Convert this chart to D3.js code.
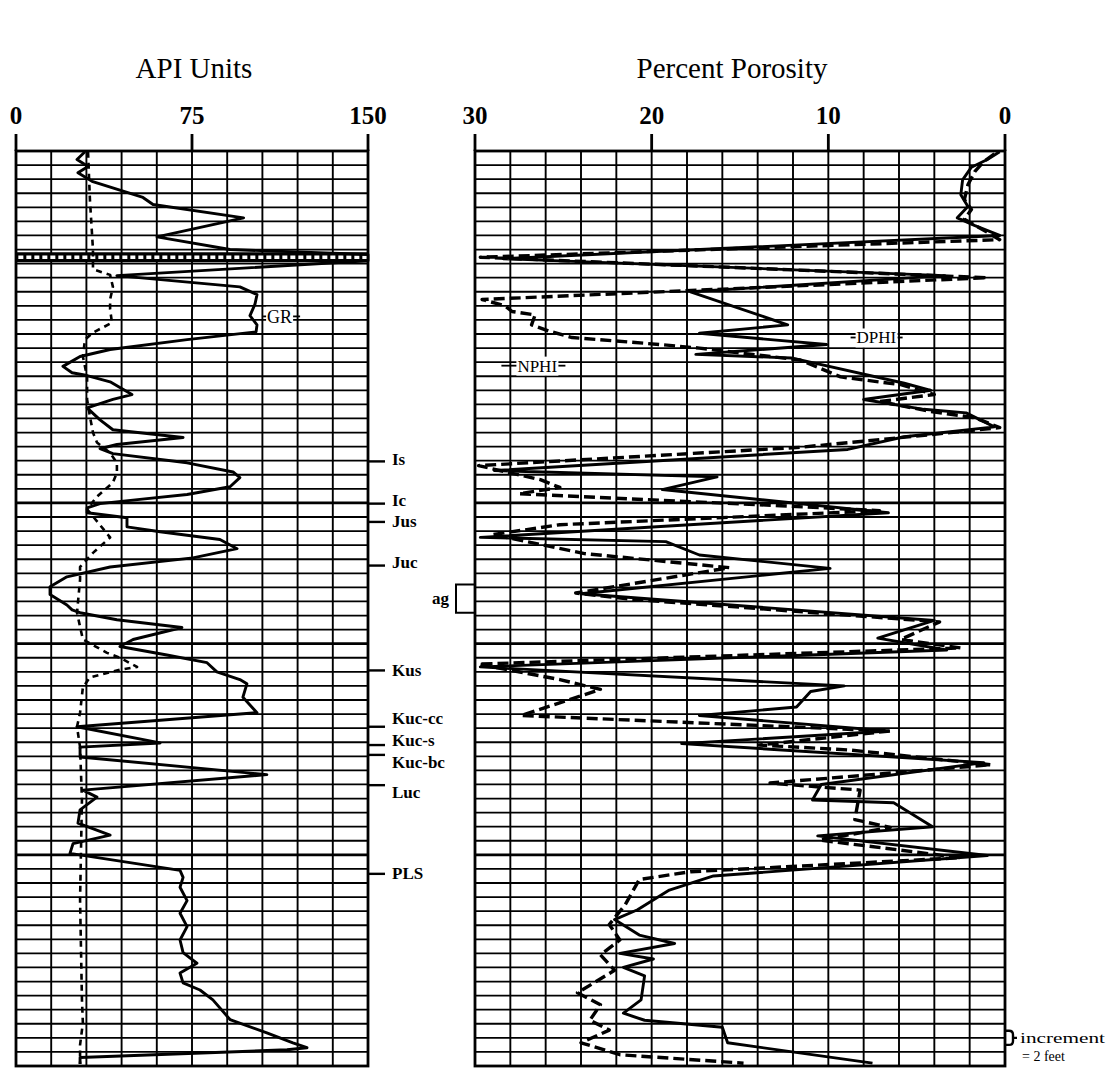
<!DOCTYPE html>
<html>
<head>
<meta charset="utf-8">
<script src="https://cdn.jsdelivr.net/npm/d3@7"></script>
<style>
  body { margin: 0; background: #fff; }
  svg { display: block; }
  text { font-family: "Liberation Serif", "Times New Roman", serif; fill: #000; }
</style>
</head>
<body>
<div id="chart"></div>
<script>
// depth in feet (one grid row = 2 ft), values in API units / percent porosity
const apiTicks = [0, 75, 150];
const porosityTicks = [30, 20, 10, 0];
const depthMax = 130;
const heavyDepths = [50, 70, 100];

// gamma ray, solid line [depth, API]
const grCurve = [
  [0.1, 29.4], [1.2, 26.0], [2.2, 30.7], [3.1, 26.4], [4.3, 32.4], [6.6, 54.1], [7.6, 58.4],
  [9.5, 97.0], [12.2, 60.1], [14.0, 91.2], [14.7, 150], [15.6, 150], [17.7, 43.0], [19.3, 95.4],
  [20.4, 102.7], [21.8, 101.8], [23.4, 99.7], [24.7, 102.7], [25.7, 102.3], [26.8, 72.9],
  [28.2, 40.1], [29.2, 27.3], [30.6, 20.0], [31.5, 23.9], [31.9, 30.3], [32.8, 40.1], [34.6, 49.4],
  [35.3, 41.3], [36.5, 30.3], [38.2, 35.8], [39.6, 41.3], [40.7, 71.2], [41.7, 43.0], [42.3, 35.8],
  [43.0, 41.3], [44.3, 72.9], [45.6, 92.5], [46.4, 95.4], [47.7, 91.2], [48.8, 72.9], [49.5, 52.8],
  [50.1, 35.8], [50.7, 30.3], [51.4, 30.3], [52.1, 47.3], [53.4, 47.3], [54.1, 61.4], [55.2, 86.9],
  [56.5, 94.2], [57.8, 75.4], [59.1, 40.1], [60.5, 21.7], [61.9, 14.5], [63.0, 14.5], [64.5, 21.7],
  [65.2, 23.9], [65.6, 27.3], [66.6, 43.0], [67.7, 70.7], [69.4, 49.9], [70.4, 44.3], [71.6, 64.3],
  [72.7, 81.4], [74.0, 85.6], [75.1, 95.4], [75.7, 98.4], [77.6, 96.7], [79.8, 102.7], [81.8, 26.0],
  [84.1, 61.4], [84.7, 27.3], [86.1, 27.3], [88.6, 106.9], [90.8, 28.5], [91.8, 34.5], [93.6, 27.3],
  [95.5, 26.4], [97.2, 40.1], [98.4, 24.3], [99.8, 23.0], [102.2, 69.9], [103.2, 71.2], [104.6, 69.9],
  [106.5, 72.9], [108.3, 69.9], [110.2, 72.9], [112.1, 69.9], [113.9, 71.2], [115.4, 77.1],
  [116.8, 69.9], [118.2, 71.2], [119.2, 78.4], [120.6, 83.9], [123.4, 91.2], [125.3, 106.9],
  [126.7, 118.0], [127.4, 124.0], [127.7, 115.5], [128.8, 27.3], [129.7, 27.3]
];

// second (dashed) curve of the left track [depth, API]
const leftDashCurve = [
  [0.1, 30.7], [6.9, 31.5], [14.0, 32.8], [16.8, 32.8], [17.6, 40.1], [19.3, 41.3], [21.1, 40.1],
  [22.5, 40.1], [24.4, 40.9], [25.8, 32.8], [26.8, 29.4], [29.2, 28.5], [32.1, 30.3], [35.3, 30.3],
  [37.7, 31.5], [40.0, 32.8], [41.4, 34.5], [42.9, 40.1], [44.3, 43.0], [45.7, 43.0], [47.1, 41.3],
  [49.1, 34.5], [50.9, 30.3], [54.9, 40.1], [57.1, 32.8], [59.1, 27.3], [60.9, 27.3], [65.6, 26.0],
  [67.6, 27.3], [69.4, 28.5], [71.3, 38.8], [72.0, 44.3], [73.3, 51.6], [73.7, 44.3], [74.8, 31.5],
  [76.2, 28.5], [79.8, 27.3], [81.8, 26.0], [84.7, 27.3], [92.2, 28.1], [106.4, 27.3], [120.6, 28.1],
  [123.9, 28.5], [127.0, 27.3], [129.7, 27.3]
];
const xxBandDepth = 15.1;

// density porosity, solid [depth, %]
const dphiCurve = [
  [0.1, 0.3], [1.2, 1.0], [2.3, 1.9], [4.1, 2.4], [6.2, 2.5], [7.9, 2.1], [9.5, 2.7], [10.6, 1.7],
  [12.0, 0.3], [15.3, 28.4], [17.7, 3.4], [20.0, 17.8], [24.7, 12.3], [25.9, 17.3], [27.5, 10.1],
  [28.9, 17.5], [29.4, 12.1], [33.0, 5.7], [34.0, 4.2], [35.3, 8.0], [36.7, 4.6], [37.2, 2.2],
  [39.2, 0.6], [40.6, 5.7], [42.4, 8.9], [45.4, 28.9], [46.3, 16.3], [48.1, 19.4], [51.4, 6.6],
  [54.9, 29.7], [55.5, 19.2], [57.4, 17.3], [59.3, 9.9], [62.9, 24.0], [66.7, 4.0], [69.2, 7.2],
  [70.9, 3.3], [73.3, 29.7], [76.0, 9.1], [76.8, 11.0], [79.0, 11.8], [80.2, 17.3], [82.4, 6.6],
  [84.2, 18.3], [86.9, 1.2], [90.0, 10.4], [92.2, 10.9], [92.6, 6.3], [96.0, 4.1], [97.3, 10.6],
  [100.1, 1.0], [103.0, 16.5], [105.0, 19.0], [107.8, 20.8], [109.2, 22.1], [111.4, 20.7],
  [112.6, 18.7], [114.0, 21.8], [114.8, 19.9], [116.0, 21.6], [117.2, 20.4], [120.6, 20.6],
  [122.5, 21.6], [123.5, 20.4], [124.5, 16.0], [126.7, 15.7], [129.6, 7.5]
];

// neutron porosity, dashed [depth, %]
const nphiCurve = [
  [0.4, 0.6], [1.5, 1.2], [2.9, 1.7], [4.8, 2.1], [6.9, 2.3], [8.3, 1.9], [9.7, 2.3], [11.4, 1.1],
  [12.6, 0.3], [15.1, 29.7], [18.0, 1.0], [21.1, 29.6], [22.0, 28.3], [22.8, 27.9], [23.3, 26.6],
  [24.7, 26.8], [25.6, 25.8], [26.5, 24.5], [27.5, 19.5], [28.0, 17.3], [29.7, 11.6], [32.1, 9.3],
  [33.2, 5.9], [34.6, 4.0], [35.6, 7.1], [37.0, 4.2], [37.9, 1.7], [39.3, 0.3], [40.3, 4.2],
  [42.1, 11.6], [44.7, 29.8], [46.7, 26.3], [47.8, 25.2], [48.7, 27.5], [50.4, 12.7], [51.1, 7.1],
  [53.1, 25.2], [54.5, 29.0], [57.2, 23.8], [59.2, 15.6], [62.8, 24.3], [63.7, 21.1], [66.9, 3.7],
  [69.4, 5.9], [70.6, 2.5], [72.9, 29.8], [75.1, 25.2], [76.5, 22.9], [80.2, 27.4], [82.4, 6.5],
  [84.4, 13.9], [85.1, 8.8], [87.2, 0.8], [89.8, 13.3], [90.8, 8.2], [95.0, 8.5], [96.1, 6.5],
  [97.9, 10.5], [100.4, 2.5], [102.4, 17.8], [103.5, 20.7], [107.1, 21.5], [109.9, 22.4],
  [112.1, 21.8], [114.2, 22.9], [116.4, 22.1], [119.6, 24.2], [121.3, 22.9], [123.5, 23.5],
  [124.9, 22.4], [126.7, 24.0], [128.4, 21.8], [129.6, 14.8]
];

// formation tops, feet
const topNames = ["Is", "Ic", "Jus", "Juc", "Kus", "Kuc-cc", "Kuc-s", "Kuc-bc", "Luc", "PLS"];
const topDepths = [44.1, 50.1, 52.7, 58.9, 73.8, 81.8, 84.4, 85.8, 90.1, 102.7];
const agInterval = [61.6, 65.6];
const incrementInterval = [125, 127];

const W = 1111, H = 1078;
const yTop = 151, yBottom = 1066;
const labelShift = [4, 2, 5, 2, 6, -3, 1, 13, 13, 5];

const svg = d3.select("#chart").append("svg")
  .attr("width", W).attr("height", H)
  .attr("viewBox", `0 0 ${W} ${H}`);

const y = d3.scaleLinear().domain([0, depthMax]).range([yTop, yBottom]);
const xApi = d3.scaleLinear().domain([0, 150]).range([16, 368]);
const xPor = d3.scaleLinear().domain([30, 0]).range([475, 1005]);

function drawGrid(x, colStep, ticks, title) {
  const [x0, x1] = x.range();
  const d = x.domain();
  const lo = Math.min(d[0], d[1]), hi = Math.max(d[0], d[1]);
  const g = svg.append("g");

  g.selectAll("line.row")
    .data(d3.range(2, depthMax, 2))
    .join("line")
    .attr("x1", x0).attr("x2", x1)
    .attr("y1", (v) => y(v)).attr("y2", (v) => y(v))
    .attr("stroke", "#000")
    .attr("stroke-width", (v) => (heavyDepths.includes(v) ? 2.7 : 1.8));

  g.selectAll("line.col")
    .data(d3.range(lo + colStep, hi, colStep))
    .join("line")
    .attr("x1", (v) => x(v)).attr("x2", (v) => x(v))
    .attr("y1", yTop).attr("y2", yBottom)
    .attr("stroke", "#000")
    .attr("stroke-width", 1.9);

  g.append("rect")
    .attr("x", x0).attr("y", yTop)
    .attr("width", x1 - x0).attr("height", yBottom - yTop)
    .attr("fill", "none")
    .attr("stroke", "#000")
    .attr("stroke-width", 2.8);

  // top ticks and labels
  g.selectAll("line.tick")
    .data(ticks)
    .join("line")
    .attr("x1", (v) => x(v)).attr("x2", (v) => x(v))
    .attr("y1", yTop - 17).attr("y2", yTop)
    .attr("stroke", "#000")
    .attr("stroke-width", 2.8);

  g.selectAll("text.tick")
    .data(ticks)
    .join("text")
    .attr("x", (v) => x(v)).attr("y", 124)
    .attr("text-anchor", "middle")
    .attr("font-size", 25)
    .attr("font-weight", "bold")
    .text((v) => v);

  g.append("text")
    .attr("x", (x0 + x1) / 2 + (x0 < 100 ? 2 : -8)).attr("y", 78)
    .attr("text-anchor", "middle")
    .attr("font-size", 29)
    .text(title);
}

drawGrid(xApi, 15, apiTicks, "API Units");
drawGrid(xPor, 2, porosityTicks, "Percent Porosity");

function curve(data, x, opts) {
  const line = d3.line().x((d) => x(d[1])).y((d) => y(d[0]));
  return svg.append("path")
    .datum(data)
    .attr("d", line)
    .attr("fill", "none")
    .attr("stroke", "#000")
    .attr("stroke-width", opts.width)
    .attr("stroke-linejoin", "round")
    .attr("stroke-dasharray", opts.dash || null);
}

// patterned band across the left track
svg.append("line")
  .attr("x1", xApi(0)).attr("x2", xApi(150))
  .attr("y1", y(xxBandDepth)).attr("y2", y(xxBandDepth))
  .attr("stroke", "#000").attr("stroke-width", 10);
svg.append("line")
  .attr("x1", xApi(1)).attr("x2", xApi(150))
  .attr("y1", y(xxBandDepth)).attr("y2", y(xxBandDepth))
  .attr("stroke", "#fff").attr("stroke-width", 3.5)
  .attr("stroke-dasharray", "5,3");

curve(leftDashCurve, xApi, { width: 2.6, dash: "6,5" });
curve(grCurve, xApi, { width: 2.9 });
curve(nphiCurve, xPor, { width: 3.4, dash: "11,5" });
curve(dphiCurve, xPor, { width: 2.9 });

// curve labels with white background
function curveLabel(text, x, depth, size, padL, padR) {
  const yy = y(depth);
  const g = svg.append("g");
  const t = g.append("text")
    .attr("x", x).attr("y", yy + size * 0.35)
    .attr("font-size", size)
    .text(text);
  const bb = t.node().getBBox();
  g.insert("rect", "text")
    .attr("x", bb.x - 1).attr("y", bb.y)
    .attr("width", bb.width + 2).attr("height", bb.height)
    .attr("fill", "#fff");
  g.append("line")
    .attr("x1", bb.x - padL).attr("x2", bb.x - 1)
    .attr("y1", yy).attr("y2", yy)
    .attr("stroke", "#000").attr("stroke-width", 1.8);
  g.append("line")
    .attr("x1", bb.x + bb.width + 1).attr("x2", bb.x + bb.width + padR)
    .attr("y1", yy).attr("y2", yy)
    .attr("stroke", "#000").attr("stroke-width", 1.8);
}
curveLabel("GR", xApi(107), 23.5, 18, 4, 8);
curveLabel("DPHI", xPor(8.4), 26.5, 17, 6, 6);
curveLabel("NPHI", xPor(27.6), 30.5, 17, 16, 8);

// formation tops
const tops = svg.append("g");
tops.selectAll("line")
  .data(topDepths)
  .join("line")
  .attr("x1", xApi(150)).attr("x2", xApi(150) + 17)
  .attr("y1", (d) => y(d)).attr("y2", (d) => y(d))
  .attr("stroke", "#000").attr("stroke-width", 2.4);
tops.selectAll("text")
  .data(topDepths)
  .join("text")
  .attr("x", xApi(150) + 24)
  .attr("y", (d, i) => y(d) + labelShift[i])
  .attr("font-size", 17)
  .attr("font-weight", "bold")
  .text((d, i) => topNames[i]);

// "ag" bracket
const ag0 = y(agInterval[0]), ag1 = y(agInterval[1]);
svg.append("path")
  .attr("d", `M${xPor(30) - 1},${ag0} H${xPor(30) - 19} V${ag1} H${xPor(30) - 1}`)
  .attr("fill", "none").attr("stroke", "#000").attr("stroke-width", 2);
svg.append("text")
  .attr("x", xPor(30) - 26).attr("y", (ag0 + ag1) / 2 + 5)
  .attr("text-anchor", "end")
  .attr("font-size", 17).attr("font-weight", "bold")
  .text("ag");

// increment key
const in0 = y(incrementInterval[0]), in1 = y(incrementInterval[1]);
svg.append("path")
  .attr("d", `M${xPor(0)},${in0} h4 q4,0 4,4 v${in1 - in0 - 8} q0,4 -4,4 h-4 M${xPor(0) + 8},${(in0 + in1) / 2} h4`)
  .attr("fill", "none").attr("stroke", "#000").attr("stroke-width", 2.4);
svg.append("text")
  .attr("x", xPor(0) + 15).attr("y", (in0 + in1) / 2 + 5)
  .attr("font-size", 15)
  .attr("textLength", 85).attr("lengthAdjust", "spacingAndGlyphs")
  .text("increment");
svg.append("text")
  .attr("x", xPor(0) + 17).attr("y", (in0 + in1) / 2 + 23)
  .attr("font-size", 14)
  .text("= 2 feet");
</script>
</body>
</html>
